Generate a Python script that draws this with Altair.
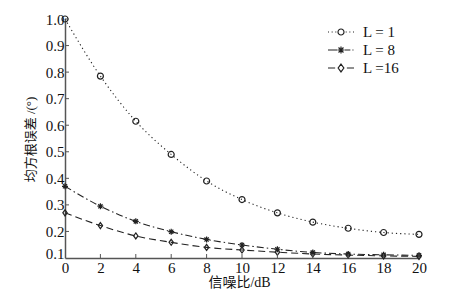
import altair as alt
import pandas as pd

snr = [0, 2, 4, 6, 8, 10, 12, 14, 16, 18, 20]
rmse_L1 = [1.0, 0.785, 0.615, 0.49, 0.39, 0.32, 0.27, 0.235, 0.212, 0.196, 0.189]
rmse_L8 = [0.37, 0.295, 0.238, 0.199, 0.17, 0.149, 0.133, 0.121, 0.115, 0.112, 0.11]
rmse_L16 = [0.27, 0.222, 0.183, 0.159, 0.14, 0.13, 0.122, 0.115, 0.111, 0.108, 0.106]
series_names = ["L = 1", "L = 8", "L =16"]
x_ticks = [0, 2, 4, 6, 8, 10, 12, 14, 16, 18, 20]
y_ticks = [0.1, 0.2, 0.3, 0.4, 0.5, 0.6, 0.7, 0.8, 0.9, 1.0]

rows = []
for name, vals in zip(series_names, [rmse_L1, rmse_L8, rmse_L16]):
    for s, v in zip(snr, vals):
        rows.append({"snr": s, "rmse": v, "series": name, "marker": name})
df = pd.DataFrame(rows)

FONT = "Liberation Serif, Noto Sans CJK SC"
INK = "#222222"
W, H = 354, 239

xscale = alt.Scale(domain=[0, 20], nice=False, zero=False)
yscale = alt.Scale(domain=[0.1, 1.0], nice=False, zero=False)

ASTERISK = "M-1,0L1,0M0,-1L0,1M-0.7,-0.7L0.7,0.7M-0.7,0.7L0.7,-0.7"
DIAMOND = "M0,-1L0.72,0L0,1L-0.72,0Z"

# legend symbol paths (line pattern + marker), unit = 13px
LEG1 = ("M-1,0L-0.92,0M-0.72,0L-0.64,0M-0.44,0L-0.36,0"
        "M0.36,0L0.44,0M0.64,0L0.72,0M0.92,0L1,0"
        "M-0.23,0A0.23,0.23 0 1,1 0.23,0A0.23,0.23 0 1,1 -0.23,0")
LEG8 = ("M-1,0L-0.3,0M0.3,0L0.72,0M0.88,0L0.96,0"
        "M-0.27,0L0.27,0M0,-0.27L0,0.27M-0.19,-0.19L0.19,0.19M-0.19,0.19L0.19,-0.19")
LEG16 = ("M-1,0L-0.45,0M0.45,0L1,0"
         "M0,-0.3L0.22,0L0,0.3L-0.22,0Z")

x_axis = alt.Axis(title="信噪比/dB", values=x_ticks, format="d", tickCount=11,
                  ticks=False, labelPadding=2, labelOverlap=False, labelFlush=False,
                  titleX=174, titleY=24, titleBaseline="middle", titleAlign="center")
y_axis = alt.Axis(title="均方根误差 /(°)", values=y_ticks, format=".1f", tickCount=10,
                  ticks=False, labelPadding=1, labelOverlap=False, labelFlush=False,
                  labelBaseline={"condition": {"test": "datum.value < 0.15", "value": "alphabetic"},
                                 "value": "middle"},
                  titleX=-35, titleY=120, titleAngle=-90,
                  titleBaseline="middle", titleAlign="center")


def X(field="snr"):
    return alt.X(field + ":Q", scale=xscale, axis=x_axis)


def Y(field="rmse"):
    return alt.Y(field + ":Q", scale=yscale, axis=y_axis)


lines = alt.Chart(df).mark_line(color=INK, strokeWidth=1.1, interpolate="monotone").encode(
    x=X(), y=Y(),
    strokeDash=alt.StrokeDash(
        "series:N",
        scale=alt.Scale(domain=series_names, range=[[1.2, 3], [7, 3, 1.5, 3], [7, 4]]),
        legend=None,
    ),
)

points = alt.Chart(df).mark_point(filled=False, color=INK, strokeWidth=1.2, opacity=1).encode(
    x=X(), y=Y(),
    shape=alt.Shape("marker:N",
                    scale=alt.Scale(domain=series_names, range=["circle", ASTERISK, DIAMOND]),
                    legend=None),
    size=alt.Size("marker:N",
                  scale=alt.Scale(domain=series_names, range=[36, 36, 64]),
                  legend=None),
)

# legend-only layer: no rows, legend built from the explicit scale domain
legend_df = pd.DataFrame({"snr": pd.Series([], dtype=float),
                          "rmse": pd.Series([], dtype=float),
                          "series": pd.Series([], dtype=str)})
legend_layer = alt.Chart(legend_df).mark_point(filled=False, color=INK, strokeWidth=1.2, opacity=1).encode(
    x=X(), y=Y(),
    shape=alt.Shape(
        "series:N",
        scale=alt.Scale(domain=series_names, range=[LEG1, LEG8, LEG16]),
        legend=alt.Legend(
            title=None, orient="none", legendX=262, legendY=4, padding=0,
            symbolSize=676, clipHeight=18, rowPadding=0, labelOffset=8,
            symbolStrokeColor=INK, symbolStrokeWidth=1.2, symbolFillColor="transparent",
            symbolOpacity=1,
            labelFont="Liberation Serif", labelFontSize=15, labelColor="#111",
        ),
    ),
)

xt_df = pd.DataFrame({"snr": x_ticks[1:]})
yt_df = pd.DataFrame({"rmse": y_ticks[1:]})
xticks = alt.Chart(xt_df).mark_rule(color="#555", strokeWidth=1).encode(
    x=X(), y=alt.value(H), y2=alt.value(H - 4))
yticks = alt.Chart(yt_df).mark_rule(color="#555", strokeWidth=1).encode(
    y=Y(), x=alt.value(0), x2=alt.value(4))

chart = alt.layer(lines, points, legend_layer, xticks, yticks).resolve_scale(
    shape="independent"
).properties(
    width=W, height=H,
    autosize="none",
    padding={"left": 65, "top": 19, "right": 33, "bottom": 46},
    background="white",
).configure_view(strokeWidth=0).configure_axis(
    grid=False, domainColor="#555", domainWidth=1.5, labelOverlap=False,
    labelFont="Liberation Serif", labelFontSize=15, labelColor="#111",
    titleFont=FONT, titleFontSize=14, titleFontWeight="normal", titleColor="#111",
).configure_axisY(titleFontSize=13)

chart.save("out.html", embed_options={"renderer": "svg", "actions": False})
